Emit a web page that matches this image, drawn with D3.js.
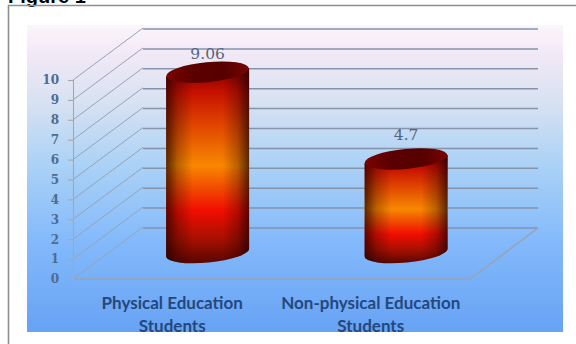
<!DOCTYPE html>
<html>
<head>
<meta charset="utf-8">
<script src="https://cdn.jsdelivr.net/npm/d3@7/dist/d3.min.js"></script>
<style>
html,body{margin:0;padding:0;background:#fff;overflow:hidden}
svg{display:block}
</style>
</head>
<body>
<script>
// Chart values
const categories = [["Physical Education", "Students"], ["Non-physical Education", "Students"]];
const values = [9.06, 4.7];
const valueLabels = ["9.06", "4.7"];
const tickValues = [0, 1, 2, 3, 4, 5, 6, 7, 8, 9, 10];

// 3D box projection: front plane plus an offset for the depth of the box
const width = 576, height = 344;
const front = {left: 73, right: 470, bottom: 279, top: 80};
const depth = {dx: 68, dy: -51};
const barDepth = 0.52;   // cylinders stand a little under halfway into the box
const barWidthShare = 0.42;
const tilt = 4;          // rise of the elliptical caps across their width

const y = d3.scaleLinear().domain([0, 10]).range([front.bottom, front.top]);
const x = d3.scaleBand().domain(d3.range(categories.length)).range([front.left, front.right]);
// Taller cylinders carry their value label closer to the cap
const labelLift = d3.scaleLinear().domain([4.7, 9.06]).range([19, 13]);

const svg = d3.select("body").append("svg").attr("width", width).attr("height", height);
const defs = svg.append("defs");

function linear(id, vertical, stops) {
  const g = defs.append("linearGradient").attr("id", id)
    .attr("x1", 0).attr("y1", 0).attr("x2", vertical ? 0 : 1).attr("y2", vertical ? 1 : 0);
  stops.forEach(s => g.append("stop").attr("offset", s[0]).attr("stop-color", s[1]).attr("stop-opacity", s[2] === undefined ? 1 : s[2]));
}
linear("panel", true, [[0, "#fcf5fb"], [0.1, "#f1e8f6"], [0.25, "#d8e2f2"], [0.45, "#acd2f6"], [0.7, "#84bafb"], [1, "#67a2f4"]]);
linear("body", true, [[0, "#7a0000"], [0.12, "#cc1000"], [0.3, "#e84a00"], [0.5, "#ff8c00"], [0.62, "#f84a00"], [0.73, "#f80e00"], [0.88, "#a81000"], [1, "#5a0600"]]);
linear("shade", false, [[0, "#1a0000", 0.72], [0.14, "#1a0000", 0.3], [0.32, "#1a0000", 0.03], [0.68, "#1a0000", 0.03], [0.86, "#1a0000", 0.3], [1, "#1a0000", 0.72]]);
linear("cap", false, [[0, "#7a0400"], [0.3, "#5c0000"], [0.7, "#560000"], [1, "#780400"]]);

// Page frame and the heading running off the top edge
svg.append("text").attr("x", 8).attr("y", 3)
  .attr("font-family", "Liberation Sans").attr("font-weight", "bold").attr("font-size", 20)
  .attr("fill", "#000").text("Figure 1");
svg.append("path").attr("d", `M8.5,${height}V5.5H${width}`)
  .attr("fill", "none").attr("stroke", "#8f8f8f").attr("stroke-width", 1.6);

svg.append("rect").attr("x", 27).attr("y", 25).attr("width", 536).attr("height", 307)
  .attr("fill", "url(#panel)");

const grid = svg.append("g").attr("fill", "none");

// Side wall rungs
grid.selectAll("line.side").data(tickValues).join("line").attr("class", "side")
  .attr("x1", front.left).attr("y1", d => y(d))
  .attr("x2", front.left + depth.dx + 2).attr("y2", d => y(d) + depth.dy - 1)
  .attr("stroke", "#96a3b5").attr("stroke-width", 1);

// Back wall gridlines
grid.selectAll("line.back").data(tickValues.slice(1).concat(0)).join("line").attr("class", "back")
  .attr("x1", front.left + depth.dx + 2).attr("y1", d => y(d) + depth.dy)
  .attr("x2", front.right + depth.dx).attr("y2", d => y(d) + depth.dy)
  .attr("stroke", "#8593ab").attr("stroke-width", 1.5);

// Floor edges
grid.append("path")
  .attr("d", `M${front.left},${y(0)}H${front.right}l${depth.dx},${depth.dy}`)
  .attr("stroke", "#98a3b4").attr("stroke-width", 1.5);

// Value axis on the front left corner
const axis = svg.append("g").attr("transform", `translate(${front.left},0)`)
  .call(d3.axisLeft(y).tickValues(tickValues).tickSize(5).tickPadding(9).tickFormat(d3.format("d")));
axis.selectAll("path,line").attr("stroke", "#a9a6a8").attr("stroke-width", 1.1);
axis.selectAll("text")
  .attr("font-family", "DejaVu Serif").attr("font-size", 12).attr("font-weight", "bold")
  .attr("fill", "#4d6c90");

// Cylinders
const bars = svg.append("g").selectAll("g").data(values).join("g");
const cx = (d, i) => x(i) + x.bandwidth() / 2 + depth.dx * barDepth;
const rx = x.bandwidth() * barWidthShare / 2 * 0.995;
const ry = 10;
const angle = -Math.atan2(tilt, rx) * 180 / Math.PI;
const barY = v => y(v) + depth.dy * barDepth;

const bodyPath = (d, i) => {
  const c = cx(d, i), t = barY(d), b = barY(0);
  return `M${c - rx},${t + tilt}V${b + tilt}A${rx},${ry} ${angle} 0 0 ${c + rx},${b - tilt}V${t - tilt}Z`;
};
bars.append("path").attr("d", bodyPath).attr("fill", "url(#body)");
bars.append("path").attr("d", bodyPath).attr("fill", "url(#shade)");
bars.append("ellipse")
  .attr("rx", rx).attr("ry", ry)
  .attr("transform", (d, i) => `translate(${cx(d, i)},${barY(d)}) rotate(${angle})`)
  .attr("fill", "url(#cap)");

// Value labels above the caps
bars.append("text")
  .attr("x", cx).attr("y", d => barY(d) - labelLift(d))
  .attr("text-anchor", "middle")
  .attr("font-family", "DejaVu Serif").attr("font-size", 15.5)
  .attr("fill", "#55657c")
  .text((d, i) => valueLabels[i]);

// Category labels
const cats = svg.append("g").selectAll("text").data(categories).join("text")
  .attr("text-anchor", "middle")
  .attr("font-family", "Lato").attr("font-size", 17).attr("font-weight", "bold")
  .attr("fill", "#23487c");
cats.selectAll("tspan").data((d, i) => d.map(t => ({t, i}))).join("tspan")
  .attr("x", d => x(d.i) + x.bandwidth() / 2)
  .attr("y", (d, j) => 309 + j * 23)
  .text(d => d.t);
</script>
</body>
</html>
